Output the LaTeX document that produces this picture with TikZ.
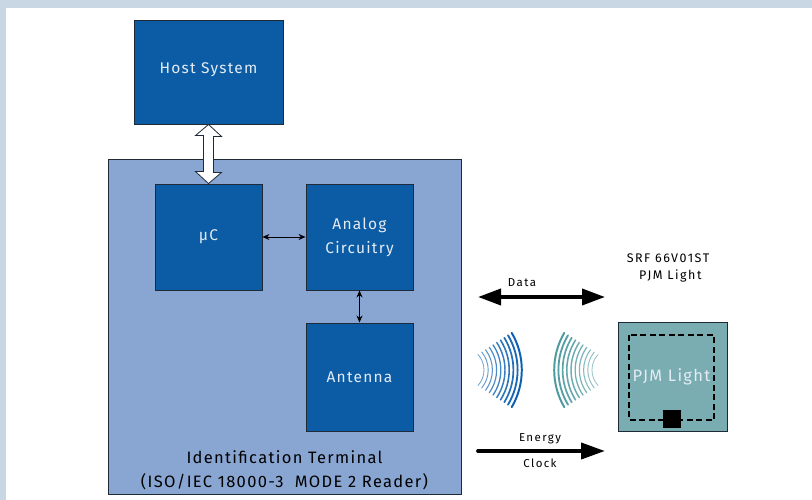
\documentclass[tikz,border=0pt]{standalone}
\usepackage{fontspec}
\setmainfont{Fira Sans}
\newfontfamily\lsfont[LetterSpace=8]{Fira Sans}
\newfontfamily\wsfont[LetterSpace=12]{Fira Sans}
\usetikzlibrary{arrows.meta,calc}
\definecolor{framebg}{HTML}{C9D6E3}
\definecolor{dkblue}{HTML}{0B5CA5}
\definecolor{ltblue}{HTML}{89A6D3}
\definecolor{tagteal}{HTML}{7AADB1}
\definecolor{edge}{HTML}{1E2A36}
\definecolor{boxtext}{HTML}{E4EBF4}
\definecolor{wblue}{HTML}{0E62B0}
\definecolor{wteal}{HTML}{4E9A9F}
\tikzset{
  blk/.style={draw=edge, line width=0.9pt, fill=dkblue, inner sep=0pt,
    minimum width=107pt, minimum height=106pt, text=boxtext,
    font=\lsfont\fontsize{15.5}{24}\selectfont, align=center},
  lbl/.style={inner sep=0pt, font=\wsfont\fontsize{11.5}{13}\selectfont, text=black},
  thin/.style={line width=0.8pt, {Stealth[length=7pt,width=6pt]}-{Stealth[length=7pt,width=6pt]}},
  hollow/.style={draw=edge, line width=0.8pt, fill=white},
  bigarrow/.style={line width=3.8pt},
}
\begin{document}
\begin{tikzpicture}[x=1pt,y=-1pt]
\useasboundingbox (0,0) rectangle (812,500);
\fill[framebg] (0,0) rectangle (812,500);
\fill[white] (6,8) rectangle (812,500);

% terminal
\node[draw=edge, line width=0.9pt, fill=ltblue, inner sep=0pt,
  minimum width=353pt, minimum height=335pt] (term) at (284.5,326.5) {};
\node[inner sep=0pt, font=\lsfont\fontsize{16.5}{24}\selectfont, align=center] (termtxt) at (284.5,470)
  {Identification Terminal\\(ISO/IEC 18000-3\ \ MODE 2 Reader)};

\node[blk, minimum width=149pt, minimum height=104pt, text height=11pt, text depth=7pt] (host) at (208.5,72) {Host System};
\node[blk] (uc) at (208.5,237) {μC};
\node[blk] (ana) at (359.5,237) {Analog\\Circuitry};
\node[blk, minimum height=108pt] (ant) at (359.5,377) {Antenna};

% hollow double arrow
\draw[hollow] (host.south) -- ++(13,12) -- ++(-8,0) -- ++(0,36) -- ++(8,0) -- (uc.north)
  -- ++(-13,-12) -- ++(8,0) -- ++(0,-36) -- ++(-8,0) -- cycle;

\draw[thin] (uc.east) -- (ana.west);
\draw[thin] (ana.south) -- (ant.north);

% data arrow
\coordinate (d1) at (478,297);
\coordinate (d2) at (605,297);
\draw[bigarrow, {Triangle[length=23pt,width=16pt]}-{Triangle[length=23pt,width=16pt]}] (d1) -- (d2);
\node[lbl] (data) at (522,283) {Data};

% energy arrow
\coordinate (e1) at (478,451);
\coordinate (e2) at (605,451);
\draw[bigarrow, line cap=round, -{Triangle[length=24pt,width=16pt]}] (e1) -- (e2);
\node[lbl] (energy) at (540,439) {Energy};
\node[lbl] (clock) at (540,463) {Clock};

% waves
\foreach \i in {0,...,9}{
  \pgfmathsetmacro{\h}{15.5+2.4*\i}
  \pgfmathsetmacro{\s}{6+0.45*\i}
  \pgfmathsetmacro{\xm}{484+4.2*\i}
  \pgfmathsetmacro{\xe}{\xm-\s}
  \pgfmathsetmacro{\r}{(\h*\h+\s*\s)/(2*\s)}
  \pgfmathsetmacro{\a}{asin(\h/\r)}
  \pgfmathsetmacro{\lw}{0.8+0.13*\i}
  \pgfmathsetmacro{\pc}{60+4.5*\i}
  \draw[wblue!\pc!white, line width=\lw pt, line cap=round]
    (\xe,370-\h) arc[start angle=-\a, end angle=\a, radius=\r];
  \pgfmathsetmacro{\rxe}{1076-\xe}
  \draw[wteal!\pc!white, line width=\lw pt, line cap=round]
    (\rxe,370-\h) arc[start angle=180+\a, end angle=180-\a, radius=\r];
}

% tag
\node[lbl, align=center, font=\wsfont\fontsize{12.5}{17}\selectfont] (tagname) at (668,268)
  {SRF 66V01ST\\\ PJM Light};
\node[draw=edge, line width=0.9pt, fill=tagteal, inner sep=0pt,
  minimum width=109pt, minimum height=109pt] (tag) at (672.5,376.5) {};
\draw[black, line width=1.4pt, dash pattern=on 6pt off 3.5pt] (629,335) rectangle (714,420);
\node[fill=black, inner sep=0pt, minimum width=18pt, minimum height=18pt] (chip) at (672,419) {};
\node[inner sep=0pt, text=boxtext, font=\lsfont\fontsize{16.5}{18}\selectfont] (pjm) at (671.5,377) {PJM Light};
\end{tikzpicture}
\end{document}
